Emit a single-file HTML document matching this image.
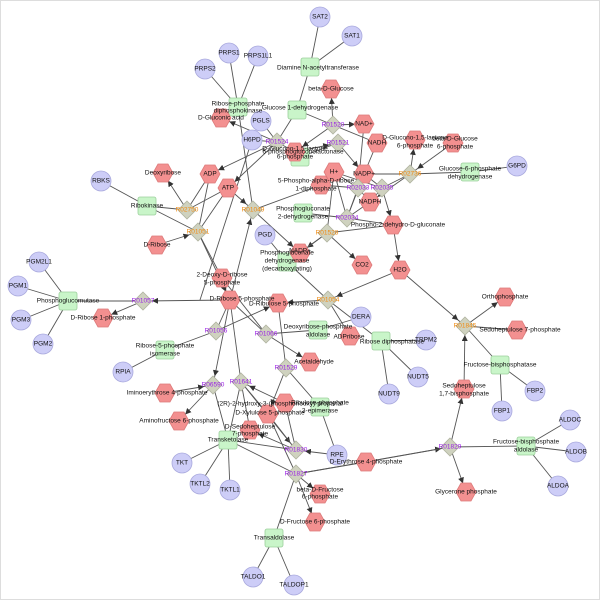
<!DOCTYPE html>
<html><head><meta charset="utf-8"><style>
html,body{margin:0;padding:0;background:#fff}
svg{display:block}
text{font-family:"Liberation Sans",sans-serif;font-size:6.5px;fill:#111;text-anchor:middle;dominant-baseline:middle}
.p{fill:#9a1ee6}.o{fill:#f08a10}
line{stroke:#555;stroke-width:0.9}
.c{fill:#cdcdf7;stroke:#a9a9dd;stroke-width:.8}
.h{fill:#f39090;stroke:#dd7a7a;stroke-width:.8}
.r{fill:#c9f5c9;stroke:#9ccf9c;stroke-width:.8}
.d{fill:#cfd2bf;stroke:#b0b3a0;stroke-width:.8}
</style></head><body>
<svg width="600" height="600" viewBox="0 0 600 600" xmlns="http://www.w3.org/2000/svg">
<defs>
<marker id="a" markerUnits="userSpaceOnUse" markerWidth="6" markerHeight="6" refX="15" refY="3" orient="auto"><path d="M0,0L6,3L0,6z" fill="#333"/></marker>
<circle id="C" class="c" r="10"/>
<path id="H" class="h" d="M-10,0L-5,-9L5,-9L10,0L5,9L-5,9Z"/>
<rect id="R" class="r" x="-9" y="-9" width="18" height="18" rx="2"/>
<path id="D" class="d" d="M0,-9L9,0L0,9L-9,0Z"/>
</defs>
<rect x="0.5" y="0.5" width="599" height="599" fill="none" stroke="#ddd"/>
<g>
<line x1="320" y1="17" x2="310" y2="67"/><line x1="352" y1="36" x2="310" y2="67"/><line x1="310" y1="67" x2="297" y2="110"/>
<line x1="229" y1="53" x2="238" y2="107"/><line x1="258" y1="56" x2="238" y2="107"/><line x1="205" y1="69" x2="238" y2="107"/>
<line x1="238" y1="107" x2="253" y2="210"/>
<line x1="297" y1="110" x2="333" y2="125"/><line x1="297" y1="110" x2="277" y2="142"/>
<line x1="333" y1="125" x2="331" y2="89" marker-end="url(#a)"/><line x1="333" y1="125" x2="364" y2="124" marker-end="url(#a)"/>
<line x1="333" y1="125" x2="377" y2="143"/><line x1="333" y1="125" x2="295" y2="152" marker-end="url(#a)"/>
<line x1="277" y1="142" x2="221" y2="118" marker-end="url(#a)"/><line x1="277" y1="142" x2="210" y2="174" marker-end="url(#a)"/>
<line x1="277" y1="142" x2="228" y2="188" marker-end="url(#a)"/><line x1="252" y1="140" x2="277" y2="142"/><line x1="261" y1="121" x2="277" y2="142"/>
<line x1="295" y1="152" x2="277" y2="142"/>
<line x1="338" y1="143" x2="300" y2="157"/><line x1="338" y1="143" x2="364" y2="174" marker-end="url(#a)"/><line x1="295" y1="152" x2="338" y2="143" marker-end="url(#a)"/>
<line x1="364" y1="124" x2="358" y2="188"/><line x1="377" y1="143" x2="364" y2="174"/>
<line x1="364" y1="174" x2="410" y2="174"/><line x1="410" y1="174" x2="415" y2="140" marker-end="url(#a)"/><line x1="453" y1="143" x2="410" y2="174" marker-end="url(#a)"/>
<line x1="470" y1="172" x2="410" y2="174"/><line x1="517" y1="166" x2="470" y2="172"/><line x1="410" y1="174" x2="370" y2="202" marker-end="url(#a)"/><line x1="410" y1="174" x2="382" y2="188"/>
<line x1="382" y1="188" x2="364" y2="174"/><line x1="382" y1="188" x2="334" y2="172"/><line x1="382" y1="188" x2="393" y2="225" marker-end="url(#a)"/><line x1="382" y1="188" x2="370" y2="202"/>
<line x1="358" y1="188" x2="334" y2="172"/><line x1="358" y1="188" x2="364" y2="174"/><line x1="358" y1="188" x2="370" y2="202"/><line x1="358" y1="188" x2="321" y2="185"/><line x1="358" y1="188" x2="347" y2="218"/>
<line x1="347" y1="218" x2="334" y2="172"/><line x1="347" y1="218" x2="364" y2="174"/><line x1="347" y1="218" x2="303" y2="213"/><line x1="347" y1="218" x2="393" y2="225"/><line x1="347" y1="218" x2="370" y2="202"/>
<line x1="327" y1="233" x2="334" y2="172"/><line x1="327" y1="233" x2="362" y2="265" marker-end="url(#a)"/><line x1="327" y1="233" x2="300" y2="253" marker-end="url(#a)"/><line x1="393" y1="225" x2="327" y2="233"/><line x1="327" y1="233" x2="287" y2="262"/>
<line x1="393" y1="225" x2="400" y2="270" marker-end="url(#a)"/><line x1="400" y1="270" x2="328" y2="300" marker-end="url(#a)"/><line x1="400" y1="270" x2="465" y2="326" marker-end="url(#a)"/>
<line x1="228" y1="188" x2="253" y2="210" marker-end="url(#a)"/><line x1="253" y1="210" x2="321" y2="185"/><line x1="253" y1="210" x2="300" y2="253" marker-end="url(#a)"/><line x1="230" y1="300" x2="253" y2="210" marker-end="url(#a)"/>
<line x1="265" y1="235" x2="287" y2="262"/><line x1="252" y1="140" x2="200" y2="300"/>
<line x1="147" y1="206" x2="187" y2="210"/><line x1="187" y1="210" x2="163" y2="173" marker-end="url(#a)"/><line x1="210" y1="174" x2="187" y2="210"/><line x1="187" y1="210" x2="228" y2="188"/>
<line x1="147" y1="206" x2="198" y2="232"/><line x1="157" y1="245" x2="198" y2="232" marker-end="url(#a)"/><line x1="210" y1="174" x2="198" y2="232"/><line x1="228" y1="188" x2="198" y2="232"/>
<line x1="198" y1="232" x2="230" y2="300" marker-end="url(#a)"/><line x1="198" y1="232" x2="222" y2="278"/><line x1="101" y1="181" x2="147" y2="206"/>
<line x1="230" y1="300" x2="143" y2="301" marker-end="url(#a)"/><line x1="143" y1="301" x2="103" y2="318" marker-end="url(#a)"/><line x1="68" y1="301" x2="143" y2="301"/>
<line x1="39" y1="262" x2="68" y2="301"/><line x1="18" y1="286" x2="68" y2="301"/><line x1="21" y1="320" x2="68" y2="301"/><line x1="43" y1="344" x2="68" y2="301"/>
<line x1="216" y1="331" x2="230" y2="300"/><line x1="216" y1="331" x2="278" y2="303" marker-end="url(#a)"/><line x1="165" y1="350" x2="216" y2="331"/><line x1="123" y1="372" x2="165" y2="350"/>
<line x1="230" y1="300" x2="266" y2="334"/><line x1="266" y1="334" x2="318" y2="330"/><line x1="266" y1="334" x2="310" y2="362" marker-end="url(#a)"/><line x1="222" y1="278" x2="266" y2="334"/>
<line x1="278" y1="303" x2="286" y2="368"/><line x1="286" y1="368" x2="268" y2="414" marker-end="url(#a)"/><line x1="286" y1="368" x2="320" y2="407"/>
<line x1="287" y1="262" x2="328" y2="300"/><line x1="328" y1="300" x2="278" y2="303" marker-end="url(#a)"/><line x1="328" y1="300" x2="350" y2="336"/><line x1="328" y1="300" x2="381" y2="341"/>
<line x1="361" y1="317" x2="318" y2="330"/><line x1="426" y1="340" x2="381" y2="341"/><line x1="418" y1="377" x2="381" y2="341"/><line x1="389" y1="394" x2="381" y2="341"/>
<line x1="230" y1="300" x2="213" y2="385" marker-end="url(#a)"/><line x1="165" y1="393" x2="213" y2="385" marker-end="url(#a)"/><line x1="213" y1="385" x2="179" y2="421" marker-end="url(#a)"/><line x1="213" y1="385" x2="228" y2="440"/>
<line x1="230" y1="300" x2="241" y2="382"/><line x1="241" y1="382" x2="268" y2="414"/><line x1="285" y1="403" x2="241" y2="382" marker-end="url(#a)"/><line x1="241" y1="382" x2="250" y2="430"/><line x1="241" y1="382" x2="228" y2="440"/><line x1="241" y1="382" x2="296" y2="450" marker-end="url(#a)"/>
<line x1="228" y1="440" x2="182" y2="463"/><line x1="228" y1="440" x2="200" y2="484"/><line x1="228" y1="440" x2="230" y2="490"/><line x1="228" y1="440" x2="296" y2="450"/><line x1="228" y1="440" x2="296" y2="474"/>
<line x1="296" y1="450" x2="285" y2="403"/><line x1="296" y1="450" x2="268" y2="414"/><line x1="296" y1="450" x2="250" y2="430" marker-end="url(#a)"/><line x1="337" y1="455" x2="296" y2="450" marker-end="url(#a)"/>
<line x1="296" y1="474" x2="366" y2="462"/><line x1="296" y1="474" x2="320" y2="494" marker-end="url(#a)"/><line x1="296" y1="474" x2="315" y2="522" marker-end="url(#a)"/><line x1="268" y1="414" x2="296" y2="474"/>
<line x1="337" y1="455" x2="320" y2="407"/><line x1="366" y1="462" x2="450" y2="447" marker-end="url(#a)"/><line x1="296" y1="474" x2="450" y2="447"/>
<line x1="450" y1="447" x2="526" y2="446"/><line x1="450" y1="447" x2="466" y2="492" marker-end="url(#a)"/><line x1="450" y1="447" x2="464" y2="389" marker-end="url(#a)"/>
<line x1="526" y1="446" x2="570" y2="420"/><line x1="526" y1="446" x2="576" y2="452"/><line x1="526" y1="446" x2="558" y2="486"/>
<line x1="464" y1="389" x2="465" y2="326" marker-end="url(#a)"/><line x1="465" y1="326" x2="505" y2="297" marker-end="url(#a)"/><line x1="465" y1="326" x2="517" y2="330"/><line x1="465" y1="326" x2="500" y2="365"/>
<line x1="535" y1="391" x2="500" y2="365"/><line x1="502" y1="411" x2="500" y2="365"/>
<line x1="274" y1="538" x2="296" y2="474"/><line x1="274" y1="538" x2="253" y2="577"/><line x1="274" y1="538" x2="294" y2="585"/>
</g>
<g>
<use href="#C" x="320" y="17"/><use href="#C" x="352" y="36"/><use href="#C" x="229" y="53"/><use href="#C" x="258" y="56"/><use href="#C" x="205" y="69"/>
<use href="#C" x="261" y="121"/><use href="#C" x="252" y="140"/><use href="#C" x="517" y="166"/><use href="#C" x="101" y="181"/><use href="#C" x="265" y="235"/>
<use href="#C" x="39" y="262"/><use href="#C" x="18" y="286"/><use href="#C" x="21" y="320"/><use href="#C" x="43" y="344"/><use href="#C" x="123" y="372"/>
<use href="#C" x="361" y="317"/><use href="#C" x="426" y="340"/><use href="#C" x="418" y="377"/><use href="#C" x="389" y="394"/>
<use href="#C" x="182" y="463"/><use href="#C" x="200" y="484"/><use href="#C" x="230" y="490"/><use href="#C" x="337" y="455"/>
<use href="#C" x="570" y="420"/><use href="#C" x="576" y="452"/><use href="#C" x="558" y="486"/><use href="#C" x="535" y="391"/><use href="#C" x="502" y="411"/>
<use href="#C" x="253" y="577"/><use href="#C" x="294" y="585"/>
<use href="#R" x="310" y="67"/><use href="#R" x="238" y="107"/><use href="#R" x="297" y="110"/><use href="#R" x="300" y="157"/><use href="#R" x="470" y="172"/>
<use href="#R" x="147" y="206"/><use href="#R" x="303" y="213"/><use href="#R" x="287" y="262"/><use href="#R" x="68" y="301"/><use href="#R" x="165" y="350"/>
<use href="#R" x="318" y="330"/><use href="#R" x="381" y="341"/><use href="#R" x="320" y="407"/><use href="#R" x="228" y="440"/><use href="#R" x="500" y="365"/>
<use href="#R" x="526" y="446"/><use href="#R" x="274" y="538"/>
<use href="#H" x="331" y="89"/><use href="#H" x="221" y="118"/><use href="#H" x="295" y="152"/><use href="#H" x="364" y="124"/><use href="#H" x="377" y="143"/>
<use href="#H" x="415" y="140"/><use href="#H" x="453" y="143"/><use href="#H" x="364" y="174"/><use href="#H" x="334" y="172"/><use href="#H" x="370" y="202"/>
<use href="#H" x="393" y="225"/><use href="#H" x="362" y="265"/><use href="#H" x="400" y="270"/><use href="#H" x="321" y="185"/><use href="#H" x="300" y="253"/>
<use href="#H" x="210" y="174"/><use href="#H" x="228" y="188"/><use href="#H" x="163" y="173"/><use href="#H" x="157" y="245"/><use href="#H" x="222" y="278"/>
<use href="#H" x="230" y="300"/><use href="#H" x="278" y="303"/><use href="#H" x="350" y="336"/><use href="#H" x="310" y="362"/><use href="#H" x="103" y="318"/>
<use href="#H" x="165" y="393"/><use href="#H" x="179" y="421"/><use href="#H" x="285" y="403"/><use href="#H" x="268" y="414"/><use href="#H" x="250" y="430"/>
<use href="#H" x="366" y="462"/><use href="#H" x="466" y="492"/><use href="#H" x="464" y="389"/><use href="#H" x="505" y="297"/><use href="#H" x="517" y="330"/>
<use href="#H" x="320" y="494"/><use href="#H" x="315" y="522"/>
<use href="#D" x="277" y="142"/><use href="#D" x="333" y="125"/><use href="#D" x="338" y="143"/><use href="#D" x="410" y="174"/><use href="#D" x="382" y="188"/>
<use href="#D" x="358" y="188"/><use href="#D" x="347" y="218"/><use href="#D" x="327" y="233"/><use href="#D" x="187" y="210"/><use href="#D" x="198" y="232"/>
<use href="#D" x="253" y="210"/><use href="#D" x="328" y="300"/><use href="#D" x="266" y="334"/><use href="#D" x="286" y="368"/><use href="#D" x="143" y="301"/>
<use href="#D" x="216" y="331"/><use href="#D" x="213" y="385"/><use href="#D" x="241" y="382"/><use href="#D" x="296" y="450"/><use href="#D" x="296" y="474"/>
<use href="#D" x="450" y="447"/><use href="#D" x="465" y="326"/>
</g>
<g>
<text x="320" y="17">SAT2</text><text x="352" y="36">SAT1</text><text x="229" y="53">PRPS1</text><text x="258" y="56">PRPS1L1</text><text x="205" y="69">PRPS2</text>
<text x="261" y="121">PGLS</text><text x="252" y="140">H6PD</text><text x="517" y="166">G6PD</text><text x="101" y="181">RBKS</text><text x="265" y="235">PGD</text>
<text x="39" y="262">PGM2L1</text><text x="18" y="286">PGM1</text><text x="21" y="320">PGM3</text><text x="43" y="344">PGM2</text><text x="123" y="372">RPIA</text>
<text x="361" y="317">DERA</text><text x="426" y="340">TRPM2</text><text x="418" y="377">NUDT5</text><text x="389" y="394">NUDT9</text>
<text x="182" y="463">TKT</text><text x="200" y="484">TKTL2</text><text x="230" y="490">TKTL1</text><text x="337" y="455">RPE</text>
<text x="570" y="420">ALDOC</text><text x="576" y="452">ALDOB</text><text x="558" y="486">ALDOA</text><text x="535" y="391">FBP2</text><text x="502" y="411">FBP1</text>
<text x="253" y="577">TALDO1</text><text x="294" y="585">TALDOP1</text>
<text x="318" y="68">Diamine N-acetyltransferase</text>
<text x="238" y="104">Ribose-phosphate</text><text x="238" y="111">diphosphokinase</text>
<text x="300" y="108">Glucose 1-dehydrogenase</text>
<text x="303" y="152">6-phosphogluconolactonase</text>
<text x="470" y="169">Glucose-6-phosphate</text><text x="470" y="177">dehydrogenase</text>
<text x="147" y="206">Ribokinase</text>
<text x="303" y="209">Phosphogluconate</text><text x="303" y="217">2-dehydrogenase</text>
<text x="287" y="253">Phosphogluconate</text><text x="287" y="261">dehydrogenase</text><text x="287" y="269">(decarboxylating)</text>
<text x="68" y="301">Phosphoglucomutase</text>
<text x="165" y="346">Ribose-5-phosphate</text><text x="165" y="354">isomerase</text>
<text x="318" y="327">Deoxyribose-phosphate</text><text x="318" y="335">aldolase</text>
<text x="392" y="342">Ribose diphosphatase</text>
<text x="320" y="403">Ribulose-phosphate</text><text x="320" y="411">3-epimerase</text>
<text x="228" y="440">Transketolase</text>
<text x="500" y="365">Fructose-bisphosphatase</text>
<text x="526" y="442">Fructose-bisphosphate</text><text x="526" y="450">aldolase</text>
<text x="274" y="538">Transaldolase</text>
<text x="331" y="89">beta-D-Glucose</text><text x="221" y="118">D-Gluconic acid</text>
<text x="295" y="149">D-Glucono-1,5-lactone</text><text x="295" y="157">6-phosphate</text>
<text x="364" y="124">NAD+</text><text x="377" y="143">NADH</text>
<text x="415" y="138">D-Glucono-1,5-lactone</text><text x="415" y="146">6-phosphate</text>
<text x="455" y="139">beta-D-Glucose</text><text x="455" y="147">6-phosphate</text>
<text x="364" y="174">NADP+</text><text x="334" y="172">H+</text><text x="370" y="202">NADPH</text>
<text x="398" y="225">Phospho-2-dehydro-D-gluconate</text><text x="362" y="265">CO2</text><text x="400" y="270">H2O</text>
<text x="316" y="181">5-Phospho-alpha-D-ribose</text><text x="316" y="189">1-diphosphate</text>
<text x="300" y="251">NADP+</text>
<text x="210" y="174">ADP</text><text x="228" y="188">ATP</text><text x="163" y="173">Deoxyribose</text><text x="157" y="245">D-Ribose</text>
<text x="222" y="275">2-Deoxy-D-ribose</text><text x="222" y="283">5-phosphate</text>
<text x="242" y="299">D-Ribose 5-phosphate</text><text x="284" y="304">D-Ribulose 5-phosphate</text>
<text x="349" y="337">ADPribose</text><text x="314" y="362">Acetaldehyde</text><text x="103" y="318">D-Ribose 1-phosphate</text>
<text x="167" y="393">Iminoerythrose 4-phosphate</text><text x="179" y="421">Aminofructose 6-phosphate</text>
<text x="280" y="404">(2R)-2-hydroxy-3-(phosphonooxy)-propanal</text><text x="270" y="413">D-Xylulose 5-phosphate</text>
<text x="250" y="427">D-Sedoheptulose</text><text x="250" y="434">7-phosphate</text>
<text x="366" y="462">D-Erythrose 4-phosphate</text><text x="466" y="492">Glycerone phosphate</text>
<text x="464" y="386">Sedoheptulose</text><text x="464" y="394">1,7-bisphosphate</text>
<text x="505" y="297">Orthophosphate</text><text x="520" y="330">Sedoheptulose 7-phosphate</text>
<text x="320" y="490">beta-D-Fructose</text><text x="320" y="497">6-phosphate</text><text x="315" y="522">D-Fructose 6-phosphate</text>
<text class="p" x="277" y="142">R01524</text><text class="p" x="333" y="125">R01520</text><text class="p" x="338" y="143">R01521</text>
<text class="o" x="410" y="174">R02736</text><text class="p" x="382" y="188">R02035</text><text class="p" x="358" y="188">R02033</text>
<text class="p" x="347" y="218">R02034</text><text class="o" x="327" y="233">R01528</text><text class="o" x="187" y="210">R02750</text>
<text class="o" x="198" y="232">R01051</text><text class="o" x="253" y="210">R01049</text><text class="o" x="328" y="300">R01054</text>
<text class="p" x="266" y="334">R01066</text><text class="p" x="286" y="368">R01529</text><text class="p" x="143" y="301">R01057</text>
<text class="p" x="216" y="331">R01056</text><text class="p" x="213" y="385">R06590</text><text class="p" x="241" y="382">R01641</text>
<text class="p" x="296" y="450">R01830</text><text class="p" x="296" y="474">R01827</text><text class="p" x="450" y="447">R01829</text>
<text class="o" x="465" y="326">R01845</text>
</g>
</svg>
</body></html>
